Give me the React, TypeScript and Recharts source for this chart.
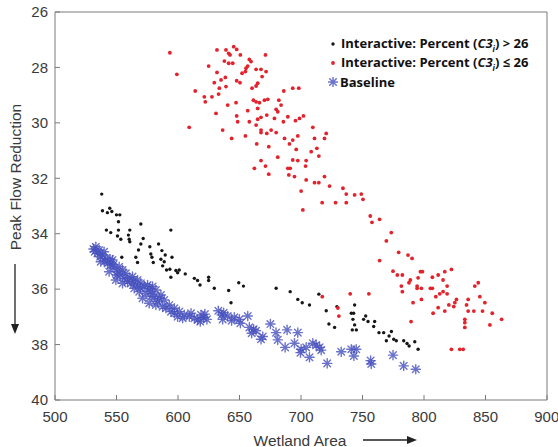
import React from "react";
import {
  ScatterChart,
  Scatter,
  XAxis,
  YAxis,
  Legend,
} from "recharts";

// [wetland area, peak flow reduction]
const interactiveHigh: [number, number][] = [
  [538.0, 32.57], [538.6, 33.17], [542.6, 33.24], [544.5, 33.08], [546.2, 33.2],
  [550.0, 33.32], [552.7, 33.32], [551.6, 33.57], [569.8, 33.65], [594.2, 33.87],
  [541.8, 33.87], [545.3, 33.96], [551.6, 33.87], [560.8, 33.87], [550.8, 34.08],
  [553.5, 34.2], [559.7, 34.05], [560.3, 34.2], [560.8, 34.29], [569.8, 34.37],
  [577.1, 34.47], [584.2, 34.37], [571.7, 34.17], [567.9, 34.59], [554.3, 34.85],
  [577.9, 34.73], [578.8, 34.85], [586.9, 34.61], [589.6, 34.77], [595.1, 34.85],
  [565.7, 34.85], [579.9, 35.04], [586.1, 34.92], [588.8, 35.01], [567.1, 35.04],
  [587.5, 35.16], [590.7, 35.31], [593.4, 35.28], [598.3, 35.33], [599.7, 35.41],
  [601.0, 35.31], [605.9, 35.45], [594.2, 35.57], [613.3, 35.61], [615.9, 35.69],
  [617.9, 35.85], [624.9, 35.57], [624.9, 35.69], [629.5, 35.97], [641.2, 36.05],
  [649.4, 35.77], [653.2, 35.89], [643.1, 36.49], [679.8, 35.97], [691.2, 36.09],
  [714.5, 36.18], [697.4, 36.37], [701.0, 36.49], [706.9, 36.57], [720.5, 36.78],
  [729.2, 36.63], [743.6, 36.57], [740.9, 36.87], [742.8, 36.87], [752.6, 36.97],
  [750.9, 37.09], [754.5, 37.17], [759.9, 37.17], [742.2, 37.09], [722.7, 37.26],
  [727.3, 37.38], [743.6, 37.29], [741.7, 37.47], [745.0, 37.47], [759.1, 37.35],
  [763.4, 37.57], [767.2, 37.57], [773.5, 37.53], [771.6, 37.69], [775.4, 37.81],
  [769.4, 37.86], [777.5, 37.86], [783.5, 37.86], [786.2, 37.96], [787.9, 38.05],
  [792.5, 37.9], [795.2, 38.17],
];

const interactiveLow: [number, number][] = [
  [593.4, 27.47], [599.1, 28.25],
  [631.7, 27.37], [639.0, 27.37], [645.3, 27.25], [647.7, 27.35], [641.2, 27.49],
  [642.3, 27.55], [650.7, 27.55], [671.1, 27.55], [637.7, 27.77], [641.2, 27.85],
  [644.5, 27.85], [658.0, 27.71], [659.4, 27.79], [624.9, 27.95], [656.7, 27.95],
  [655.3, 28.03], [663.5, 28.07], [667.5, 28.07], [671.6, 28.15], [631.7, 28.18],
  [652.1, 28.21], [654.8, 28.15], [635.0, 28.45], [638.5, 28.36], [629.5, 28.55],
  [647.7, 28.48], [650.4, 28.55], [668.4, 28.33], [664.8, 28.57], [663.5, 28.67],
  [660.2, 28.75], [633.6, 28.75], [639.0, 28.69], [614.0, 28.85], [686.0, 28.85],
  [693.3, 28.75], [698.2, 28.75], [621.4, 29.06], [627.6, 29.06], [633.0, 28.96],
  [622.2, 29.24], [661.3, 29.18], [663.5, 29.24], [666.2, 29.27], [670.3, 29.18],
  [673.0, 29.15], [682.0, 29.18], [640.4, 29.36], [647.2, 29.27], [664.8, 29.48],
  [683.8, 29.36], [679.8, 29.51], [681.1, 29.6], [630.9, 29.66], [656.7, 29.56],
  [672.2, 29.72], [647.7, 29.75], [648.5, 29.96], [658.0, 29.96], [664.8, 29.87],
  [667.5, 29.8], [678.4, 29.84], [689.3, 29.78], [685.7, 29.96], [695.5, 29.92],
  [698.8, 29.84], [702.0, 29.75], [609.1, 30.16], [636.3, 30.26], [663.5, 30.08],
  [667.5, 30.26], [667.5, 30.35], [675.7, 30.26], [679.8, 30.35], [709.6, 30.16],
  [643.6, 30.56], [654.8, 30.47], [672.2, 30.38], [686.6, 30.56], [693.3, 30.62],
  [697.4, 30.47], [711.0, 30.56], [719.1, 30.56], [720.5, 30.38], [664.0, 30.76],
  [673.8, 30.86], [690.6, 30.76], [696.1, 30.96], [708.3, 31.04], [712.9, 30.92],
  [714.5, 31.2], [667.5, 31.36], [681.1, 31.24], [693.3, 31.34], [697.4, 31.36],
  [704.2, 31.36], [703.7, 31.56], [662.1, 31.64], [671.1, 31.56], [689.3, 31.64],
  [691.2, 31.64], [690.1, 31.88], [673.8, 31.85], [694.7, 31.94], [704.2, 32.06],
  [719.1, 31.94], [711.0, 32.16], [714.5, 32.16], [723.2, 32.28], [734.1, 32.36],
  [736.8, 32.57], [743.6, 32.6], [700.1, 32.46], [717.2, 32.88], [728.1, 32.88],
  [736.8, 32.88], [701.5, 33.14], [749.0, 32.57], [750.4, 32.76],
  [756.3, 33.36], [763.9, 33.48], [757.7, 33.59], [773.4, 33.96], [769.4, 34.26],
  [779.4, 34.67], [787.0, 34.77], [790.3, 34.89], [763.9, 34.97], [774.8, 35.35],
  [778.3, 35.49], [782.4, 35.49], [797.1, 35.37], [798.7, 35.37], [816.9, 35.37],
  [822.3, 35.29], [795.2, 35.59], [788.9, 35.67], [787.8, 35.77], [806.8, 35.57],
  [811.5, 35.49], [815.5, 35.67], [781.6, 35.89], [794.4, 35.89], [797.9, 35.97],
  [794.4, 35.97], [805.2, 35.97], [806.8, 35.97], [818.8, 35.89], [815.5, 36.09],
  [812.8, 36.17], [818.8, 36.17], [782.4, 36.09], [809.6, 36.27], [844.1, 35.77],
  [841.3, 35.89], [826.4, 36.37], [825.1, 36.49], [835.9, 36.37], [845.4, 36.27],
  [849.5, 36.49], [791.1, 36.49], [797.9, 36.37], [820.2, 36.57], [824.2, 36.63],
  [811.5, 36.67], [834.6, 36.57], [835.9, 36.79], [840.5, 36.79], [847.6, 36.79],
  [816.9, 36.79], [807.4, 36.87], [855.5, 36.87], [833.2, 37.09], [833.2, 37.21],
  [863.1, 37.09], [853.6, 37.29], [833.2, 37.38], [789.5, 37.17], [740.0, 36.17],
  [755.2, 36.17], [730.8, 36.97], [822.3, 38.17], [829.1, 38.17], [831.8, 38.17],
  [730.0, 36.68], [717.3, 36.27],
];

const baseline: [number, number][] = [
  [533.2, 34.47], [535.9, 34.59], [534.5, 34.71], [538.6, 34.77], [541.3, 34.89],
  [537.2, 35.01], [542.7, 35.07], [545.4, 35.13], [548.1, 35.25], [544.0, 35.37],
  [550.8, 35.37], [553.5, 35.49], [556.2, 35.61], [549.5, 35.67], [559.0, 35.73],
  [561.7, 35.79], [565.7, 35.85], [569.8, 35.79], [572.5, 35.91], [576.6, 35.97],
  [579.3, 35.91], [564.4, 35.97], [568.5, 36.09], [573.9, 36.15], [571.2, 36.33],
  [580.7, 36.27], [586.1, 36.21], [588.8, 36.39], [583.4, 36.45], [576.6, 36.51],
  [587.5, 36.63], [592.9, 36.57], [597.0, 36.69], [594.3, 36.81], [601.1, 36.81],
  [605.1, 36.93], [609.2, 36.99], [599.7, 36.99], [613.3, 37.05], [618.7, 36.93],
  [531.3, 34.55], [539.9, 34.65], [546.7, 34.95], [554.9, 35.31], [563.0, 35.55],
  [567.1, 35.67], [578.0, 36.09], [582.0, 36.03],
  [532.3, 34.65], [536.7, 34.83], [540.5, 34.99], [544.8, 34.91], [547.5, 35.11],
  [552.2, 35.19], [550.3, 35.49], [557.6, 35.43], [560.3, 35.59], [554.9, 35.79],
  [563.8, 35.71], [569.3, 35.95], [575.3, 35.85], [578.0, 36.27], [584.8, 36.33],
  [582.0, 36.57], [590.2, 36.69], [597.0, 36.87], [603.8, 37.05], [610.6, 36.87],
  [616.0, 37.11], [620.9, 37.03],
  [618.1, 37.17], [621.9, 36.9], [623.5, 37.09], [632.8, 36.78], [635.5, 36.93],
  [637.1, 36.85], [636.3, 37.09], [640.4, 36.97], [643.6, 37.14], [645.8, 37.02],
  [649.9, 37.09], [650.7, 37.23], [656.7, 36.97], [658.0, 37.38], [661.5, 37.45],
  [659.9, 37.59], [663.4, 37.5], [668.9, 37.71], [667.5, 37.81], [675.1, 37.26],
  [679.7, 37.57], [681.1, 37.83], [688.7, 37.47], [697.4, 37.57], [687.1, 38.1],
  [694.7, 37.95], [700.1, 38.17], [699.6, 38.29], [704.2, 38.1], [709.6, 37.95],
  [712.3, 38.02], [715.1, 38.1], [716.4, 38.2], [706.9, 38.46], [721.3, 38.68],
  [732.7, 38.26], [740.9, 38.17], [744.9, 38.17], [743.0, 38.41], [756.6, 38.58],
  [757.1, 38.7], [774.8, 38.38], [783.5, 38.77], [793.3, 38.89],
];

const xTicks = [500, 550, 600, 650, 700, 750, 800, 850, 900];
const yTicks = [26, 28, 30, 32, 34, 36, 38, 40];

const toPoints = (rows: [number, number][]) => rows.map(([x, y]) => ({ x, y }));

const BLACK = "#161616";
const RED = "#e3222b";
const BLUE = "#4650bd";
const AXIS = "#7a7a7a";
const TEXT = "#3a3a3a";

const BlackDot = (props: any) => <circle cx={props.cx} cy={props.cy} r={1.7} fill={BLACK} />;
const RedDot = (props: any) => <circle cx={props.cx} cy={props.cy} r={1.9} fill={RED} />;
const NoMark = () => <g />;

const Star = (props: any) => {
  const { cx, cy } = props;
  const r = 4.6;
  const d = r * 0.72;
  return (
    <g stroke={BLUE} strokeWidth={1.4} strokeLinecap="round" opacity={0.8}>
      <line x1={cx - r} y1={cy} x2={cx + r} y2={cy} />
      <line x1={cx} y1={cy - r} x2={cx} y2={cy + r} />
      <line x1={cx - d} y1={cy - d} x2={cx + d} y2={cy + d} />
      <line x1={cx - d} y1={cy + d} x2={cx + d} y2={cy - d} />
      <circle cx={cx} cy={cy} r={1.7} fill={BLUE} stroke="none" />
    </g>
  );
};

const legendRow: React.CSSProperties = {
  display: "flex",
  alignItems: "center",
  height: 19,
  whiteSpace: "nowrap",
};

const LegendBox = () => (
  <div
    style={{
      fontFamily: "'Open Sans', sans-serif",
      fontWeight: 700,
      fontSize: 13,
      color: "#111",
    }}
  >
    <div style={legendRow}>
      <svg width={10} height={10}><circle cx={5} cy={5} r={1.7} fill={BLACK} /></svg>
      <span style={{ marginLeft: 3 }}>
        Interactive: Percent (<i>C3<sub style={{ fontSize: 8 }}>i</sub></i>) &gt; 26
      </span>
    </div>
    <div style={legendRow}>
      <svg width={10} height={10}><circle cx={5} cy={5} r={1.9} fill={RED} /></svg>
      <span style={{ marginLeft: 3 }}>
        Interactive: Percent (<i>C3<sub style={{ fontSize: 8 }}>i</sub></i>) ≤ 26
      </span>
    </div>
    <div style={legendRow}>
      <svg width={10} height={10}><Star cx={5} cy={5} /></svg>
      <span style={{ marginLeft: 2 }}>Baseline</span>
    </div>
  </div>
);

const YLabel = (props: any) => {
  const vb = props.viewBox || { x: 0, y: 12 };
  const cx = vb.x + 15;
  const cy = vb.y + 165;
  return (
    <g>
      <text
        x={cx}
        y={cy}
        transform={`rotate(-90 ${cx} ${cy})`}
        textAnchor="middle"
        dominantBaseline="central"
        fill={TEXT}
        fontSize={15.5}
        fontFamily="'Liberation Sans', Arial, sans-serif"
      >
        Peak Flow Reduction
      </text>
      <line x1={cx} y1={vb.y + 252} x2={cx} y2={vb.y + 314} stroke="#222" strokeWidth={1.3} />
      <polygon
        points={`${cx - 4},${vb.y + 312} ${cx + 4},${vb.y + 312} ${cx},${vb.y + 322}`}
        fill="#222"
      />
    </g>
  );
};

const XLabel = (props: any) => {
  const vb = props.viewBox || { x: 55, y: 400 };
  const cx = vb.x + 245;
  const cy = vb.y + 40;
  return (
    <g>
      <text
        x={cx}
        y={cy}
        textAnchor="middle"
        dominantBaseline="central"
        fill={TEXT}
        fontSize={15.5}
        fontFamily="'Liberation Sans', Arial, sans-serif"
      >
        Wetland Area
      </text>
      <line x1={vb.x + 308} y1={cy} x2={vb.x + 354} y2={cy} stroke="#222" strokeWidth={1.3} />
      <polygon
        points={`${vb.x + 352},${cy - 4} ${vb.x + 352},${cy + 4} ${vb.x + 362},${cy}`}
        fill="#222"
      />
    </g>
  );
};

const tickStyle = {
  fill: TEXT,
  fontSize: 15,
  fontFamily: "'Liberation Sans', Arial, sans-serif",
};

export default function App() {
  return (
    <div style={{ position: "absolute", left: 0, top: 0, width: 558, height: 447, background: "#fff" }}>
      <ScatterChart width={558} height={447} margin={{ top: 11, right: 10, left: 0, bottom: 0 }}>
        <XAxis
          type="number"
          dataKey="x"
          domain={[500, 900]}
          ticks={xTicks}
          allowDataOverflow
          height={47}
          tickSize={-5}
          tickMargin={16}
          tick={tickStyle}
          stroke={AXIS}
          label={<XLabel />}
        />
        <XAxis
          xAxisId="top"
          orientation="top"
          type="number"
          dataKey="x"
          domain={[500, 900]}
          ticks={xTicks}
          allowDataOverflow
          height={1}
          tickSize={-5}
          tick={false}
          stroke={AXIS}
        />
        <YAxis
          type="number"
          dataKey="y"
          domain={[26, 40]}
          ticks={yTicks}
          reversed
          allowDataOverflow
          width={55}
          tickSize={-5}
          tickMargin={12}
          tick={tickStyle}
          stroke={AXIS}
          label={<YLabel />}
        />
        <YAxis
          yAxisId="right"
          orientation="right"
          type="number"
          dataKey="y"
          domain={[26, 40]}
          ticks={yTicks}
          reversed
          allowDataOverflow
          width={1}
          tickSize={-5}
          tick={false}
          stroke={AXIS}
        />
        <Legend
          layout="vertical"
          align="center"
          verticalAlign="middle"
          wrapperStyle={{ position: "absolute", left: 328, top: 34, width: 225 }}
          content={() => <LegendBox />}
        />
        <Scatter name="high" data={toPoints(interactiveHigh)} shape={<BlackDot />} isAnimationActive={false} />
        <Scatter name="low" data={toPoints(interactiveLow)} shape={<RedDot />} isAnimationActive={false} />
        <Scatter name="baseline" data={toPoints(baseline)} shape={<Star />} isAnimationActive={false} />
        <Scatter
          name="frame"
          xAxisId="top"
          yAxisId="right"
          data={toPoints(baseline)}
          shape={<NoMark />}
          legendType="none"
          isAnimationActive={false}
        />
      </ScatterChart>
    </div>
  );
}
